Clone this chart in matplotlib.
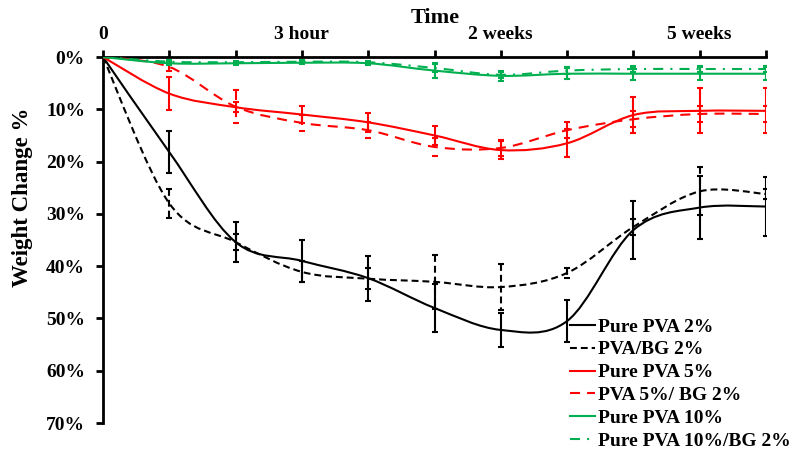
import matplotlib.pyplot as plt
import numpy as np
from matplotlib.path import Path
from matplotlib.patches import PathPatch
from matplotlib.lines import Line2D

plt.rcParams['font.family'] = ['Liberation Serif', 'DejaVu Serif']
plt.rcParams['font.weight'] = 'bold'

# sampling points along the time axis
steps = np.arange(11)
step_labels = ['0', '', '', '3 hour', '', '', '2 weeks', '', '', '5 weeks', '']

# weight change (%) and error for each film
pva2 = [0, 18.2, 35.4, 39.0, 42.3, 48.0, 52.2, 50.5, 33.1, 28.8, 28.6]
pva2_err = [0, 4.0, 3.8, 4.0, 4.3, 4.6, 3.3, 4.0, 5.5, 6.0, 5.7]
pva_bg2 = [0, 28.0, 35.4, 41.1, 42.4, 43.0, 44.0, 41.3, 32.5, 25.7, 26.2]
pva_bg2_err = [0, 2.8, 1.5, 2.0, 2.0, 5.2, 4.4, 1.0, 1.5, 4.6, 1.0]
pva5 = [0, 7.0, 9.6, 11.0, 12.5, 15.0, 17.8, 16.5, 11.1, 10.3, 10.3]
pva5_err = [0, 3.2, 1.0, 1.6, 1.8, 1.8, 1.7, 2.7, 3.4, 4.3, 4.3]
pva5_bg2 = [0, 1.9, 9.5, 12.6, 14.0, 17.2, 17.4, 14.0, 11.9, 10.9, 10.9]
pva5_bg2_err = [0, 0.8, 3.2, 1.6, 1.5, 1.8, 1.5, 1.5, 1.5, 1.5, 1.5]
pva10 = [0, 1.2, 1.2, 1.1, 1.2, 2.6, 3.6, 3.2, 3.2, 3.2, 3.2]
pva10_err = [0, 0.3, 0.3, 0.3, 0.3, 1.4, 1.0, 1.1, 1.2, 1.2, 1.2]
pva10_bg2 = [0, 0.9, 1.0, 0.9, 1.0, 2.1, 3.4, 2.6, 2.3, 2.3, 2.3]
pva10_bg2_err = [0, 0.3, 0.3, 0.3, 0.3, 0.8, 0.6, 0.6, 0.6, 0.6, 0.6]

GREEN = '#00B050'
series = [
    ('Pure PVA 2%', pva2, pva2_err, 'black', '-'),
    ('PVA/BG 2%', pva_bg2, pva_bg2_err, 'black', (0, (3.3, 1.9))),
    ('Pure PVA 5%', pva5, pva5_err, 'red', '-'),
    ('PVA 5%/ BG 2%', pva5_bg2, pva5_bg2_err, 'red', (0, (4.8, 3.4))),
    ('Pure PVA 10%', pva10, pva10_err, GREEN, '-'),
    ('Pure PVA 10%/BG 2%', pva10_bg2, pva10_bg2_err, GREEN, (0, (4.8, 3.4, 1.0, 3.4))),
]


def smooth_path(x, y):
    # cubic bezier through every point, spreadsheet-style smoothing
    pts = np.column_stack([x, y]).astype(float)
    ext = np.vstack([pts[0], pts, pts[-1]])
    verts = [pts[0]]
    codes = [Path.MOVETO]
    for i in range(len(pts) - 1):
        p0, p1, p2, p3 = ext[i], ext[i + 1], ext[i + 2], ext[i + 3]
        verts += [p1 + (p2 - p0) / 6, p2 - (p3 - p1) / 6, p2]
        codes += [Path.CURVE4] * 3
    return Path(verts, codes)


fig = plt.figure(figsize=(7.99, 4.54), dpi=100)
ax = fig.add_axes([103 / 799, 1 - 423 / 454, 663 / 799, 366 / 454])

handles = []
lw = 1.5
for name, vals, err, color, ls in series:
    ax.add_patch(PathPatch(smooth_path(steps, vals), fill=False, edgecolor=color,
                           linewidth=lw, linestyle=ls, zorder=3))
    eb = ax.errorbar(steps, vals, yerr=err, fmt='none', ecolor=color,
                     elinewidth=lw, capsize=2, capthick=lw, zorder=3)
    for col in eb[2]:
        col.set_linestyle(ls)
    handles.append(Line2D([], [], color=color, linewidth=lw, linestyle=ls, label=name))

ax.set_xlim(0, 10)
ax.set_ylim(70, 0)
ax.xaxis.tick_top()
ax.set_xticks(steps)
ax.set_xticklabels(step_labels)
ax.set_yticks(np.arange(0, 71, 10))
ax.set_yticklabels([f'{v}%' for v in range(0, 71, 10)])
ax.tick_params(axis='x', direction='out', length=5, width=2, pad=5, labelsize=14)
ax.tick_params(axis='y', direction='out', length=5, width=2, pad=8, labelsize=14)
for side in ('right', 'bottom'):
    ax.spines[side].set_visible(False)
for side in ('top', 'left'):
    ax.spines[side].set_linewidth(2)

fig.text(435 / 799, 1 - 18 / 454, 'Time', ha='center', va='center', fontsize=16)
fig.text(23 / 799, 1 - 197 / 454, 'Weight Change %', ha='center', va='center',
         rotation=90, fontsize=16.5)

fig.legend(handles=handles, loc='upper left', bbox_to_anchor=(570 / 799, 1 - 318 / 454),
           frameon=False, fontsize=14, handlelength=1.3, handletextpad=0.15,
           labelspacing=0.27, borderpad=0, borderaxespad=0)

fig.savefig('out.png', dpi=100)
